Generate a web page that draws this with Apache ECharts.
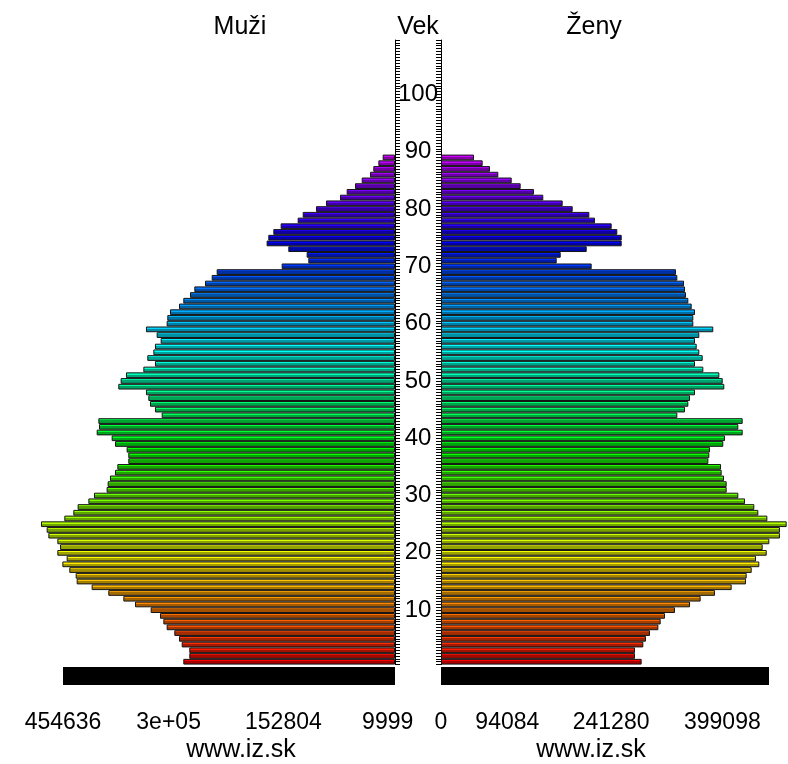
<!DOCTYPE html>
<html><head><meta charset="utf-8">
<script src="https://cdn.jsdelivr.net/npm/echarts@6/dist/echarts.min.js"></script>
<style>html,body{margin:0;padding:0;background:#fff}#c{width:788px;height:764px}</style>
</head><body><div id="c"></div>
<script>
// age positions on the vertical axis (1 .. 109)
const agePositions = Array.from({length: 109}, (_, i) => i + 1);
const ageTickLabels = [10, 20, 30, 40, 50, 60, 70, 80, 90, 100];

// population by age position (1 .. 89)
const male = [
  289900, 281700, 281700, 292100, 295800, 302200, 312700, 317200, 321800, 334600,
  356000, 372000, 392600, 415400, 435900, 437300, 446000, 455500, 449600, 462400,
  458700, 462400, 474700, 477000, 484800, 452800, 440500, 434600, 419900, 412200,
  394900, 393500, 390300, 383400, 380200, 365200, 365200, 367500, 383400, 388000,
  408500, 405300, 406200, 319500, 328700, 335500, 337800, 341000, 378900, 375700,
  368400, 344600, 328700, 339200, 330900, 328700, 320900, 326400, 341000, 312700,
  311800, 308100, 295800, 289900, 280700, 274800, 260200, 251000, 244200, 155200,
  118700, 121000, 146100, 175800, 173500, 166600, 156600, 133300, 126400, 108200,
  94500, 75300, 66200, 54800, 45600, 34200, 29700, 22800, 16900
];
const female = [
  284600, 275200, 275200, 287000, 290800, 296400, 308300, 311600, 317700, 331900,
  353200, 368300, 388600, 412300, 432600, 433600, 440700, 451500, 446800, 462000,
  456300, 465700, 480800, 480800, 490300, 462900, 450100, 444400, 431200, 421700,
  405200, 405200, 401400, 398100, 397200, 379200, 380600, 381500, 400400, 402800,
  427900, 421700, 427900, 335200, 346100, 350800, 353200, 360300, 401800, 399600,
  394800, 372100, 360300, 371200, 366400, 362700, 360300, 366400, 386200, 357900,
  357900, 360300, 355600, 350800, 347500, 346100, 344700, 335200, 333300, 213700,
  164100, 169800, 206700, 256300, 256300, 250100, 242100, 218400, 210400, 186800,
  172600, 145100, 131900, 113000, 100300, 81300, 69500, 59100, 46800
];

// x-axis ticks and ranges
const maleTickValues = [454636, 310000, 152804, 9999];
const maleTickLabels = ['454636', '3e+05', '152804', '9999'];
const femaleTickValues = [0, 94084, 241280, 399098];
const femaleTickLabels = ['0', '94084', '241280', '399098'];
const maleMax = 454636;
const femaleMax = 465250;

const FONT = '"Liberation Sans", Arial, Helvetica, sans-serif';

function grad(i) {
  const h = i * 3.28;
  return new echarts.graphic.LinearGradient(0, 0, 0, 1, [
    {offset: 0, color: 'hsl(' + h + ',100%,50%)'},
    {offset: 0.38, color: 'hsl(' + h + ',100%,50%)'},
    {offset: 0.38, color: 'hsl(' + h + ',100%,32%)'},
    {offset: 1, color: 'hsl(' + h + ',100%,32%)'}
  ]);
}
const maleItems = male.map((v, i) => ({value: v, itemStyle: {color: grad(i)}}));
const femaleItems = female.map((v, i) => ({value: v, itemStyle: {color: grad(i)}}));

const chart = echarts.init(document.getElementById('c'), null, {renderer: 'canvas'});

const xAxisCommon = {
  type: 'value', position: 'bottom', offset: 11.4,
  axisLine: {show: true, lineStyle: {color: '#000', width: 18, cap: 'butt'}},
  axisTick: {show: false}, splitLine: {show: false},
  axisLabel: {color: '#000', fontSize: 23, fontFamily: FONT, margin: 35}
};
const tickAxisCommon = {
  type: 'value', min: 0.5, max: 109.5, interval: 0.5,
  axisLine: {show: true, lineStyle: {color: '#000', width: 1}},
  axisTick: {show: true, inside: false, length: 5, lineStyle: {color: '#000', width: 1}},
  splitLine: {show: false}
};

chart.setOption({
  animation: false,
  backgroundColor: '#fff',
  grid: [
    {left: 63, top: 40, width: 332, height: 624.6, outerBoundsMode: 'none', containLabel: false},
    {left: 441, top: 40, width: 328, height: 624.6, outerBoundsMode: 'none', containLabel: false}
  ],
  xAxis: [
    Object.assign({}, xAxisCommon, {
      gridIndex: 0, min: 0, max: maleMax, inverse: true,
      axisLabel: Object.assign({}, xAxisCommon.axisLabel, {
        customValues: maleTickValues,
        formatter: v => maleTickLabels[maleTickValues.indexOf(v)] || ''
      })
    }),
    Object.assign({}, xAxisCommon, {
      gridIndex: 1, min: 0, max: femaleMax,
      axisLabel: Object.assign({}, xAxisCommon.axisLabel, {
        customValues: femaleTickValues,
        formatter: v => femaleTickLabels[femaleTickValues.indexOf(v)] || ''
      })
    })
  ],
  yAxis: [
    {type: 'category', gridIndex: 0, data: agePositions, show: false},
    Object.assign({}, tickAxisCommon, {
      gridIndex: 0, position: 'right',
      axisLabel: {show: true, customValues: ageTickLabels, color: '#000', fontSize: 24,
        fontFamily: FONT, align: 'center', margin: 23, padding: [6, 0, 0, 0]}
    }),
    {type: 'category', gridIndex: 1, data: agePositions, show: false},
    Object.assign({}, tickAxisCommon, {
      gridIndex: 1, position: 'left', axisLabel: {show: false}
    })
  ],
  series: [
    {type: 'bar', name: 'Muži', xAxisIndex: 0, yAxisIndex: 0, data: maleItems,
     barCategoryGap: '0%', clip: false, silent: true,
     itemStyle: {borderColor: '#151515', borderWidth: 1}},
    {type: 'bar', name: 'Ženy', xAxisIndex: 1, yAxisIndex: 2, data: femaleItems,
     barCategoryGap: '0%', clip: false, silent: true,
     itemStyle: {borderColor: '#151515', borderWidth: 1}}
  ],
  graphic: [
    {type: 'text', x: 240, y: 27, style: {text: 'Muži', font: '25px ' + FONT, fill: '#000', textAlign: 'center', textVerticalAlign: 'middle'}},
    {type: 'text', x: 418, y: 27, style: {text: 'Vek', font: '25px ' + FONT, fill: '#000', textAlign: 'center', textVerticalAlign: 'middle'}},
    {type: 'text', x: 594, y: 27, style: {text: 'Ženy', font: '25px ' + FONT, fill: '#000', textAlign: 'center', textVerticalAlign: 'middle'}},
    {type: 'text', x: 241, y: 750, style: {text: 'www.iz.sk', font: '25px ' + FONT, fill: '#000', textAlign: 'center', textVerticalAlign: 'middle'}},
    {type: 'text', x: 591, y: 750, style: {text: 'www.iz.sk', font: '25px ' + FONT, fill: '#000', textAlign: 'center', textVerticalAlign: 'middle'}}
  ]
});
</script>
</body></html>
